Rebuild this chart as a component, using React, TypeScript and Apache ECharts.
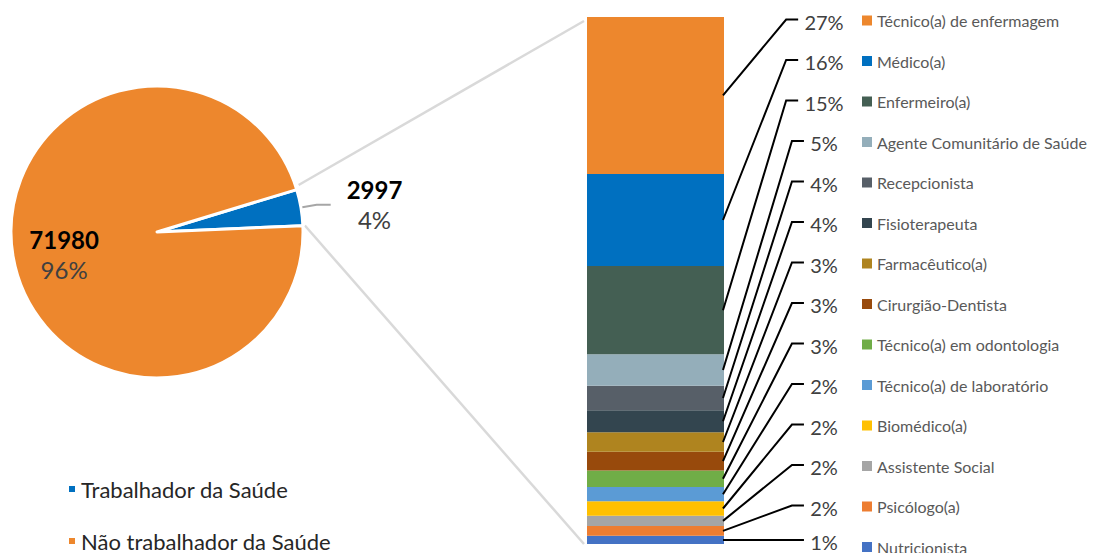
import React, { useEffect, useRef } from 'react';
import * as echarts from 'echarts';

// ---- data ----
const pieNames = ['Trabalhador da Saúde', 'Não trabalhador da Saúde'];
const pieValues = [2997, 71980];
const pieColors = ['#0070C0', '#ED872D'];

const occupations = [
  'Técnico(a) de enfermagem',
  'Médico(a)',
  'Enfermeiro(a)',
  'Agente Comunitário de Saúde',
  'Recepcionista',
  'Fisioterapeuta',
  'Farmacêutico(a)',
  'Cirurgião-Dentista',
  'Técnico(a) em odontologia',
  'Técnico(a) de laboratório',
  'Biomédico(a)',
  'Assistente Social',
  'Psicólogo(a)',
  'Nutricionista',
];
const occupationCounts = [800, 470, 450, 160, 125, 112, 100, 95, 85, 72, 74, 52, 50, 42];
const occupationColors = [
  '#ED872D', '#0070C0', '#445F53', '#94AEBA', '#575F68', '#33454F', '#AF841F',
  '#984A0C', '#70AD47', '#5B9BD5', '#FFC000', '#A5A5A5', '#ED7D31', '#4472C4',
];

// ---- layout ----
const FONT = 'Lato';
const CHART_W = 1094;
const CHART_H = 553;
const PIE_CX = 157;
const PIE_CY = 232;
const PIE_R = 146;
const PIE_START = 2.5;
const LEG_TOP = 12.5;
const ROW_H = 16;
const ROW_STEP = 40.5;
const LABEL_CX = 824;

export default function App() {
  const ref = useRef<HTMLDivElement>(null);

  useEffect(() => {
    if (!ref.current) return;
    const chart = echarts.init(ref.current, undefined, { renderer: 'svg' });

    const total = occupationCounts.reduce((a, b) => a + b, 0);
    const pieTotal = pieValues.reduce((a, b) => a + b, 0);
    const pctLabels = occupationCounts.map((c) => Math.round((c / pieValues[0]) * 100) + '%');
    const mids: number[] = [];
    let acc = total;
    occupationCounts.forEach((c) => {
      mids.push(acc - c / 2);
      acc -= c;
    });

    const barSeries: any[] = [];
    for (let i = occupations.length - 1; i >= 0; i--) {
      barSeries.push({
        type: 'bar',
        name: occupations[i],
        stack: 'occ',
        barWidth: '100%',
        data: [occupationCounts[i]],
        itemStyle: { color: occupationColors[i] },
        emphasis: { disabled: true },
        silent: true,
      });
    }

    const option: any = {
      animation: false,
      textStyle: { fontFamily: FONT },
      grid: { left: 587, width: 137, top: 17, bottom: 9 },
      xAxis: { type: 'category', data: [''], show: false },
      yAxis: { type: 'value', min: 0, max: total, show: false },
      legend: [
        {
          data: occupations,
          orient: 'vertical',
          left: 862,
          top: LEG_TOP,
          height: 700,
          padding: 0,
          icon: 'rect',
          itemWidth: 10,
          itemHeight: 10,
          itemGap: ROW_STEP - ROW_H,
          selectedMode: false,
          textStyle: { fontSize: 16, color: '#595959', fontFamily: FONT },
        },
        {
          data: pieNames,
          orient: 'vertical',
          left: 67,
          top: 478,
          height: 300,
          padding: 0,
          icon: 'rect',
          itemWidth: 8,
          itemHeight: 8,
          itemGap: 30,
          selectedMode: false,
          textStyle: { fontSize: 22, color: '#262626', fontFamily: FONT },
        },
      ],
      series: [
        {
          type: 'custom',
          name: 'connectors',
          coordinateSystem: 'cartesian2d',
          silent: true,
          z: 1,
          data: [[0, total]],
          renderItem: (params: any, api: any) => {
            const top = api.coord([0, total]);
            const bot = api.coord([0, 0]);
            const band = api.size([1, 0])[0];
            const bx = top[0] - band / 2 - 3;
            const a1 = (PIE_START * Math.PI) / 180;
            const a2 = ((PIE_START + (360 * pieValues[0]) / pieTotal) * Math.PI) / 180;
            const r = PIE_R + 2;
            const p1 = [PIE_CX + r * Math.cos(a2), PIE_CY - r * Math.sin(a2) - 4];
            const p2 = [PIE_CX + r * Math.cos(a1), PIE_CY - r * Math.sin(a1)];
            return {
              type: 'group',
              children: [
                { type: 'line', shape: { x1: p1[0], y1: p1[1], x2: bx, y2: top[1] + 4 }, style: { stroke: '#D9D9D9', lineWidth: 2.5 } },
                { type: 'line', shape: { x1: p2[0], y1: p2[1], x2: bx, y2: bot[1] }, style: { stroke: '#D9D9D9', lineWidth: 2.5 } },
              ],
            };
          },
        },
        ...barSeries,
        {
          type: 'custom',
          name: 'leaders',
          coordinateSystem: 'cartesian2d',
          silent: true,
          z: 5,
          data: occupations.map((_, i) => [0, mids[i], i]),
          renderItem: (params: any, api: any) => {
            const i = api.value(2);
            const p = api.coord([api.value(0), api.value(1)]);
            const band = api.size([1, 0])[0];
            const x0 = p[0] + band / 2 - 1;
            const y0 = p[1];
            const rowY = Math.min(LEG_TOP + ROW_H / 2 + i * ROW_STEP, CHART_H - 12);
            const txt = pctLabels[i];
            const w = (txt.length - 1) * 11.6 + 16.5;
            const endX = LABEL_CX - w / 2 - 6;
            const elbowX = endX - 12;
            const lineY = rowY - 1;
            return {
              type: 'group',
              children: [
                {
                  type: 'polyline',
                  shape: { points: [[x0, y0], [elbowX, lineY], [endX, lineY]] },
                  style: { stroke: '#000', lineWidth: 2, fill: null },
                },
                {
                  type: 'text',
                  style: {
                    text: txt,
                    x: LABEL_CX,
                    y: rowY + 1,
                    align: 'center',
                    verticalAlign: 'middle',
                    fontSize: 20,
                    fill: '#404040',
                    fontFamily: FONT,
                  },
                },
              ],
            };
          },
        },
        {
          type: 'pie',
          center: [PIE_CX, PIE_CY],
          radius: PIE_R,
          startAngle: PIE_START,
          clockwise: false,
          silent: true,
          emphasis: { disabled: true },
          itemStyle: { borderColor: '#fff', borderWidth: 3 },
          label: {
            formatter: (p: any) => `{v|${p.value}}\n{p|${Math.round(p.percent)}%}`,
            rich: {
              v: { fontSize: 24, fontWeight: 'bold', color: '#000', lineHeight: 30, align: 'center', fontFamily: FONT },
              p: { fontSize: 24, color: '#404040', lineHeight: 30, align: 'center', fontFamily: FONT },
            },
          },
          labelLayout: (params: any) => (params.dataIndex === 1 ? { dx: -18, dy: 10 } : {}),
          data: pieNames.map((n, i) => ({
            name: n,
            value: pieValues[i],
            itemStyle: { color: pieColors[i] },
            label: i === 0 ? { position: 'outside', distanceToLabelLine: 16 } : { position: 'inside' },
            labelLine:
              i === 0
                ? { show: true, length: 16, length2: 14, lineStyle: { color: '#A6A6A6', width: 2 } }
                : { show: false },
          })),
        },
      ],
    };

    chart.setOption(option);
    return () => chart.dispose();
  }, []);

  return (
    <div
      ref={ref}
      style={{ position: 'absolute', left: 0, top: 0, width: CHART_W, height: CHART_H, background: '#fff' }}
    />
  );
}
